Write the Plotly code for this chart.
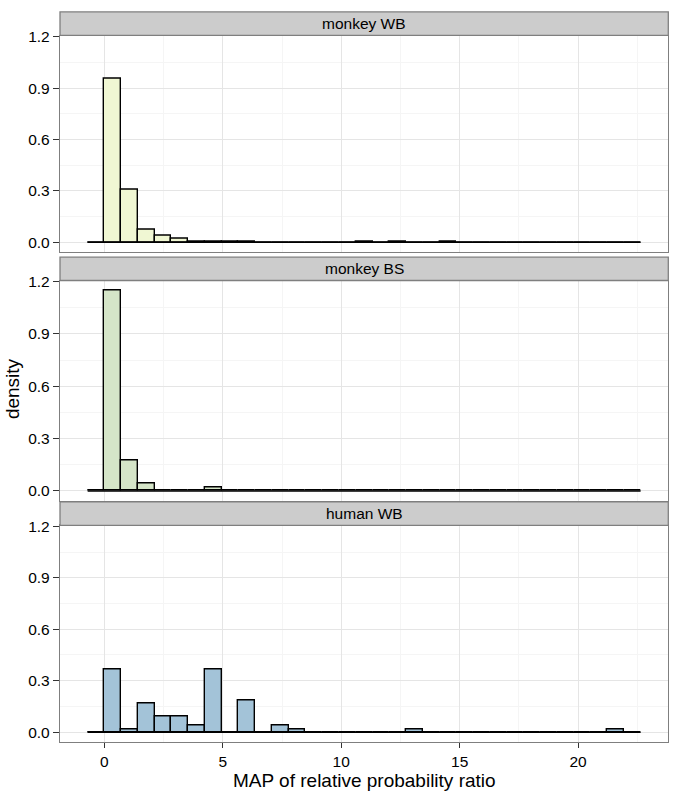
import plotly.graph_objects as go

# ---- data ----
panels = ["monkey WB", "monkey BS", "human WB"]
fills = ["#F0F7D3", "#D5E5C8", "#A3C3D8"]
bin_start = -0.7075
bin_width = 0.7075
n_bins = 33
dens_monkey_wb = [0, 0.954, 0.309, 0.073, 0.038, 0.019, 0.003, 0.003, 0.004, 0.004,
                  0, 0, 0, 0, 0, 0, 0.003, 0, 0.003, 0, 0, 0.003, 0, 0, 0, 0, 0, 0, 0, 0, 0, 0, 0]
dens_monkey_bs = [0, 1.147, 0.177, 0.044, 0.005, 0.005, 0, 0.018, 0.005, 0,
                  0, 0, 0, 0, 0, 0, 0, 0, 0, 0, 0, 0, 0, 0, 0, 0, 0, 0, 0, 0, 0, 0, 0]
dens_human_wb = [0, 0.367, 0.018, 0.165, 0.092, 0.092, 0.037, 0.367, 0, 0.184,
                 0, 0.037, 0.018, 0, 0, 0, 0, 0, 0, 0.018, 0, 0, 0, 0, 0, 0, 0, 0, 0, 0, 0, 0.018, 0]
dens_all = [dens_monkey_wb, dens_monkey_bs, dens_human_wb]
x_ticks = [0, 5, 10, 15, 20]
y_ticks = [0.0, 0.3, 0.6, 0.9, 1.2]
y_tick_labels = ["0.0", "0.3", "0.6", "0.9", "1.2"]

# ---- layout geometry (pixels) ----
W, H = 674, 793
px_l, px_r = 60, 668.3
panel_px = [(28, 246.7), (275.3, 498), (522.7, 741.5)]
strip_px = [(4, 27.7), (251.7, 275.3), (499, 522.7)]
FONT = "Liberation Sans, Arial, sans-serif"

fig = go.Figure()
centers = [bin_start + (i + 0.5) * bin_width for i in range(n_bins)]
edge_lo = bin_start
edge_hi = bin_start + n_bins * bin_width

for k, (name, dens) in enumerate(zip(panels, dens_all)):
    ax = "" if k == 0 else str(k + 1)
    fig.add_trace(go.Scatter(x=[edge_lo, edge_hi], y=[0, 0], mode="lines",
                             line=dict(color="black", width=1.5),
                             xaxis="x" + ax, yaxis="y" + ax, showlegend=False,
                             hoverinfo="skip"))
    fig.add_trace(go.Bar(x=centers, y=dens, width=bin_width,
                         marker=dict(color=fills[k], line=dict(color="black", width=1.4)),
                         xaxis="x" + ax, yaxis="y" + ax, showlegend=False))

xr = [-1.875, 23.81]
yr = [-0.0574, 1.2054]
axis_common = dict(showline=True, mirror=True, linecolor="#7f7f7f", linewidth=1.3,
                   gridcolor="#e5e5e5", gridwidth=1, zeroline=False)
for k in range(3):
    ax = "" if k == 0 else str(k + 1)
    y0, y1 = panel_px[k]
    dom_y = [1 - y1 / H, 1 - y0 / H]
    bottom = (k == 2)
    fig.layout["xaxis" + ax] = dict(
        axis_common, domain=[px_l / W, px_r / W], range=xr, anchor="y" + ax,
        tickvals=x_ticks, showticklabels=bottom, ticks="outside" if bottom else "",
        ticklen=5, tickcolor="#333333", tickwidth=1.3,
        tickfont=dict(family=FONT, size=15.5, color="black"),
        minor=dict(tickvals=[2.5, 7.5, 12.5, 17.5, 22.5], showgrid=True,
                   gridcolor="#f5f5f5", ticks=""),
    )
    fig.layout["yaxis" + ax] = dict(
        axis_common, domain=dom_y, range=yr, anchor="x" + ax,
        tickvals=y_ticks, ticktext=y_tick_labels, ticks="outside", ticklen=6,
        tickcolor="#333333", tickwidth=1.3,
        tickfont=dict(family=FONT, size=15.5, color="black"),
        minor=dict(tickvals=[0.15, 0.45, 0.75, 1.05], showgrid=True,
                   gridcolor="#f5f5f5", ticks=""),
    )

shapes = []
annotations = []
for k, name in enumerate(panels):
    s0, s1 = strip_px[k]
    shapes.append(dict(type="rect", xref="paper", yref="paper",
                       x0=px_l / W, x1=px_r / W, y0=1 - s1 / H, y1=1 - s0 / H,
                       fillcolor="#cccccc", line=dict(color="#7f7f7f", width=1.3),
                       layer="above"))
    annotations.append(dict(text=name, xref="paper", yref="paper",
                            x=(px_l + px_r) / 2 / W, y=1 - (s0 + s1) / 2 / H,
                            showarrow=False, xanchor="center", yanchor="middle",
                            font=dict(family=FONT, size=15.5, color="black")))

annotations.append(dict(text="MAP of relative probability ratio", xref="paper", yref="paper",
                        x=(px_l + px_r) / 2 / W, y=1 - 780 / H, showarrow=False,
                        xanchor="center", yanchor="middle",
                        font=dict(family=FONT, size=19, color="black")))
annotations.append(dict(text="density", xref="paper", yref="paper",
                        x=12 / W, y=1 - 385 / H, showarrow=False, textangle=-90,
                        xanchor="center", yanchor="middle",
                        font=dict(family=FONT, size=19, color="black")))

fig.update_layout(width=W, height=H, margin=dict(l=0, r=0, t=0, b=0),
                  paper_bgcolor="white", plot_bgcolor="white",
                  shapes=shapes, annotations=annotations, bargap=0,
                  barmode="overlay")

fig.write_html("out.html", config={"displayModeBar": False},
               post_script="document.body.style.margin='0px';document.body.style.overflow='hidden';")
